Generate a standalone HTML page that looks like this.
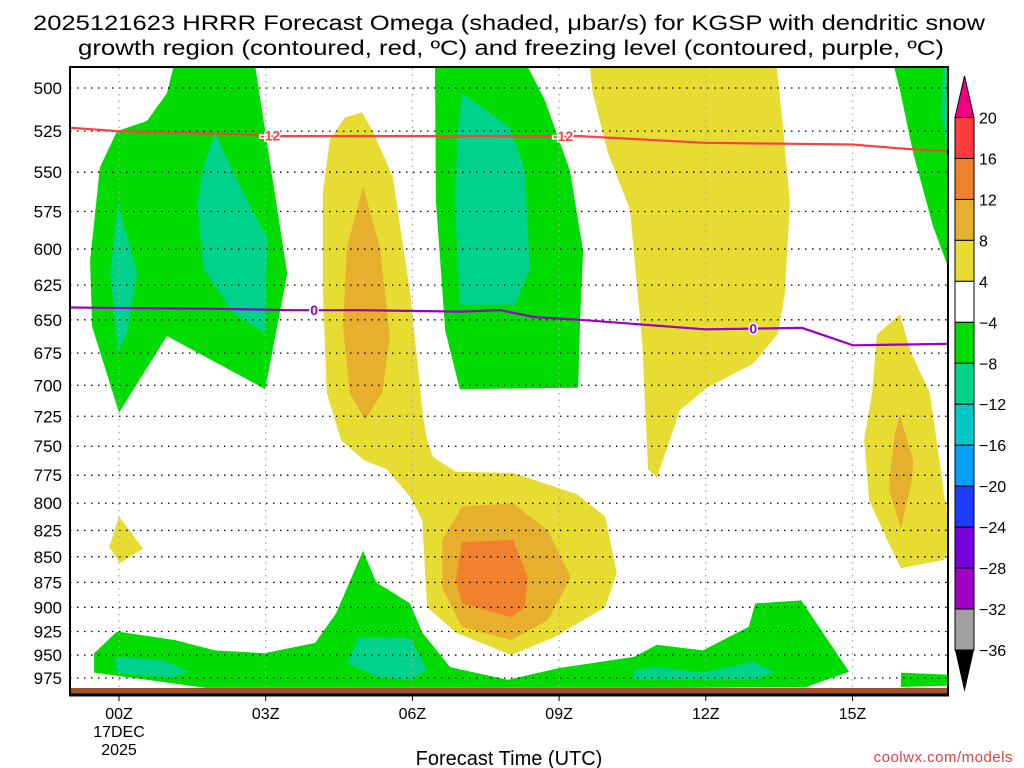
<!DOCTYPE html>
<html><head><meta charset="utf-8"><style>
html,body{margin:0;padding:0;background:#fff;}
svg{display:block;font-family:"Liberation Sans",sans-serif;}
</style></head><body>
<svg id="chart" width="1024" height="768" viewBox="0 0 1024 768" xmlns="http://www.w3.org/2000/svg">
<defs><clipPath id="plotclip"><rect x="70" y="67" width="878" height="628"/></clipPath></defs>
<text x="33" y="30" font-size="21" textLength="952" lengthAdjust="spacingAndGlyphs">2025121623 HRRR Forecast Omega (shaded, μbar/s) for KGSP with dendritic snow</text>
<text x="78" y="55" font-size="21" textLength="866" lengthAdjust="spacingAndGlyphs">growth region (contoured, red, ºC) and freezing level (contoured, purple, ºC)</text>
<g id="fills" clip-path="url(#plotclip)"></g>
<g id="grid"></g>
<g id="lines" clip-path="url(#plotclip)"></g>
<rect x="70" y="688" width="878" height="7" fill="#a0522d"/>
<rect x="70" y="67" width="878" height="628" fill="none" stroke="#000" stroke-width="2"/>
<line x1="69" y1="695" x2="949" y2="695" stroke="#000" stroke-width="3"/>
<g id="yaxis"></g>
<g id="xaxis"></g>
<text x="119" y="737" font-size="16" text-anchor="middle">17DEC</text>
<text x="119" y="755" font-size="16" text-anchor="middle">2025</text>
<text x="509" y="765" font-size="20" text-anchor="middle">Forecast Time (UTC)</text>
<text x="1013" y="762" font-size="15" text-anchor="end" fill="#e04040" letter-spacing="0.5">coolwx.com/models</text>
<g id="cbar"></g>
</svg>
<script>
const pressureTicks=[500,525,550,575,600,625,650,675,700,725,750,775,800,825,850,875,900,925,950,975];
const hourTicks=[0,3,6,9,12,15];
const hourLabels=["00Z","03Z","06Z","09Z","12Z","15Z"];
const levelValues=[20,16,12,8,4,-4,-8,-12,-16,-20,-24,-28,-32,-36];
const levelColors=["#fa3c3c","#f0822d","#e6af2d","#e6dc32","#ffffff","#00dc00","#00d28c","#00c8c8","#00a0ff","#1e3cff","#7800dc","#a000c8","#a0a0a0"];
// omega shaded regions: [hour, pressure]
const greenLeft=[[1.19,480],[2.74,480],[3.44,617],[2.99,703],[0.98,662],[0,722],[-0.55,655],[-0.59,608],[-0.39,547],[-0.04,525],[0.57,519],[0.98,503]];
const tealLeftA=[[-0.02,570],[0.37,617],[0.16,660],[-0.02,674],[-0.18,617]];
const tealLeftB=[[1.96,526],[2.62,568],[3.03,592],[2.99,660],[2.33,645],[1.72,613],[1.6,570],[1.72,547]];
const yellowMid=[[4.97,514],[5.19,525],[5.6,553],[5.95,630],[6.22,726],[6.3,745],[6.42,759],[6.89,772],[8.06,773],[9.37,792],[9.94,812],[10.18,866],[9.94,900],[8.9,931],[8.02,950],[6.89,926],[6.3,900],[6.2,815],[5.95,794],[5.48,770],[5.01,762],[4.54,745],[4.25,706],[4.17,630],[4.17,563],[4.31,530],[4.62,517]];
const orangeMid=[[4.99,559],[5.34,599],[5.54,663],[5.38,706],[5.03,728],[4.72,706],[4.58,655],[4.66,599]];
const orangeLow=[[7.01,803],[8.06,800],[8.77,825],[9.24,870],[8.77,913],[8.02,934],[7.01,920],[6.61,880],[6.61,834]];
const redLow=[[7.01,836],[8.06,834],[8.36,870],[8.3,900],[8.02,910],[7.01,896],[6.89,873]];
const greenMid=[[6.46,480],[8.2,480],[8.71,507],[9.22,549],[9.49,601],[9.43,650],[9.39,702],[6.97,703],[6.67,658],[6.48,568]];
const tealMid=[[7.01,503],[8.0,523],[8.3,549],[8.4,614],[8.1,639],[6.97,639],[6.87,568],[6.93,525]];
const yellowBig=[[9.59,480],[13.42,480],[13.58,523],[13.72,569],[13.62,630],[13.48,660],[12.97,683],[12.02,702],[11.47,720],[11.0,777],[10.82,770],[10.7,667],[10.45,574],[10.0,538],[9.69,503]];
const greenRight=[[15.77,480],[17.2,480],[17.2,620],[16.95,612],[16.65,585],[16.24,538],[15.97,501]];
const tealRight=[[16.85,480],[17.2,480],[17.2,538],[16.95,538],[16.83,518]];
const yellowRight=[[15.97,646],[16.18,673],[16.58,706],[16.89,797],[17.2,840],[16.95,843],[16.87,853],[15.99,861],[15.71,834],[15.34,797],[15.24,745],[15.4,706],[15.5,661]];
const orangeRight=[[15.97,724],[16.24,762],[16.22,779],[15.99,823],[15.75,788],[15.77,773],[15.87,739]];
const yellowSmall=[[0,812],[0.49,842],[0.02,856],[-0.2,841]];
const greenBottom=[[-0.51,948],[-0.04,925],[1.15,934],[1.96,945],[2.97,948],[4.01,937],[4.44,906],[4.99,844],[5.26,875],[5.95,896],[6.2,926],[6.77,963],[7.95,977],[9.0,964],[10.53,952],[11.0,939],[11.94,945],[12.88,920],[13.01,896],[13.95,893],[14.93,968],[14.05,985],[11.66,986],[7.42,986],[5.95,986],[1.78,986],[-0.51,969]];
const greenBottomRight=[[15.99,969],[17.2,972],[17.2,983],[15.99,985]];
const tealBottomA=[[-0.08,952],[0.9,955],[1.43,968],[1.02,975],[-0.04,969]];
const tealBottomB=[[4.89,931],[5.95,932],[6.3,966],[5.95,977],[5.36,975],[4.66,959]];
const tealBottomC=[[10.53,966],[11.0,963],[11.94,969],[12.94,957],[13.42,968],[13.01,977],[10.53,977]];
// contour lines
const dgzHours=[-1.0,-0.04,2.62,3.29,5.07,8.0,9.43,11.98,14.99,16.24,16.95];
const dgzPress=[523,525,527,528,528,528,528,532,533,536,537];
const dgzLabelHours=[3.09,9.08];
const frzHours=[-1.0,2.07,3.56,4.93,7.0,7.8,8.5,9.43,11.98,13.97,15.01,16.95];
const frzPress=[641,642,643,643,644,643,648,650,657,656,669,668];
const frzLabelHours=[3.99,12.97];

const NS="http://www.w3.org/2000/svg";
function xs(h){return 119+48.9*h;}
function ys(p){return 88+883.5*Math.log(p/500);}
function mk(tag,attrs,parent){const e=document.createElementNS(NS,tag);for(const k in attrs)e.setAttribute(k,attrs[k]);parent.appendChild(e);return e;}
const fills=document.getElementById('fills');
function poly(pts,color,name){
  const e=mk('polygon',{points:pts.map(q=>xs(q[0]).toFixed(1)+','+ys(q[1]).toFixed(1)).join(' '),fill:color},fills);
  
  
}
const G="#00dc00",T="#00d28c",Y="#e6dc32",O="#e6af2d",R="#f0822d";
poly(greenLeft,G,'omega-region-green-left');
poly(tealLeftA,T,'omega-region-teal-left-a');
poly(tealLeftB,T,'omega-region-teal-left-b');
poly(greenMid,G,'omega-region-green-mid');
poly(tealMid,T,'omega-region-teal-mid');
poly(greenRight,G,'omega-region-green-right');
poly(tealRight,T,'omega-region-teal-right');
poly(greenBottom,G,'omega-region-green-bottom');
poly(greenBottomRight,G,'omega-region-green-bottom-right');
poly(tealBottomA,T,'omega-region-teal-bottom-a');
poly(tealBottomB,T,'omega-region-teal-bottom-b');
poly(tealBottomC,T,'omega-region-teal-bottom-c');
poly(yellowMid,Y,'omega-region-yellow-mid');
poly(orangeMid,O,'omega-region-orange-mid');
poly(orangeLow,O,'omega-region-orange-low');
poly(redLow,R,'omega-region-red-low');
poly(yellowBig,Y,'omega-region-yellow-big');
poly(yellowRight,Y,'omega-region-yellow-right');
poly(orangeRight,O,'omega-region-orange-right');
poly(yellowSmall,Y,'omega-region-yellow-small');

const grid=document.getElementById('grid');
const yax=document.getElementById('yaxis');
pressureTicks.forEach(p=>{
  const y=ys(p);
  const l=mk('line',{x1:70,x2:948,y1:y,y2:y,stroke:'#000','stroke-width':1.3,'stroke-dasharray':'1.5 5.5'},grid);
  
  
  const t=mk('text',{x:62,y:y+6,'font-size':17,'text-anchor':'end'},yax);
  t.textContent=p;
  
  
});
const xax=document.getElementById('xaxis');
hourTicks.forEach((h,i)=>{
  const x=xs(h);
  const l=mk('line',{x1:x,x2:x,y1:68,y2:694,stroke:'#aaa','stroke-width':1.3,'stroke-dasharray':'1.5 5'},grid);
  
  
  const tk=mk('line',{x1:x,x2:x,y1:695,y2:701,stroke:'#000','stroke-width':1},xax);
  
  
  const t=mk('text',{x:x,y:719,'font-size':16,'text-anchor':'middle'},xax);
  t.textContent=hourLabels[i];
  
  
});

const lines=document.getElementById('lines');
function contour(hs,ps,color,labelHours,labelText,name){
  const d=hs.map((h,i)=>(i?'L':'M')+xs(h).toFixed(1)+' '+ys(ps[i]).toFixed(1)).join(' ');
  const path=mk('path',{d:d,fill:'none',stroke:color,'stroke-width':2.2},lines);
  
  
  labelHours.forEach(h=>{
    let j=0;while(j<hs.length-2&&hs[j+1]<h)j++;
    const f=(h-hs[j])/(hs[j+1]-hs[j]);
    const p=ps[j]+(ps[j+1]-ps[j])*f;
    const x=xs(h),y=ys(p);
    const bg=mk('rect',{x:x-14,y:y-7,width:28,height:14,fill:'#fff','fill-opacity':0.0},lines);
    
    
    const t=mk('text',{x:x,y:y+5,'font-size':14,'font-weight':'bold','text-anchor':'middle',fill:color,stroke:'#fff','stroke-width':3,'paint-order':'stroke'},lines);
    t.textContent=labelText;
    
    
  });
}
contour(dgzHours,dgzPress,'#fa4040',dgzLabelHours,'-12','dgz-minus12-contour');
contour(frzHours,frzPress,'#9b00c8',frzLabelHours,'0','freezing-level-contour');

const cb=document.getElementById('cbar');
const cbTop=117.5,cbBot=650,cbX=955,cbW=19;
const segH=(cbBot-cbTop)/levelColors.length;
const up=mk('polygon',{points:`${cbX},${cbTop} ${cbX+cbW},${cbTop} ${cbX+cbW/2},76`,fill:'#f00082',stroke:'#000','stroke-width':1},cb);


levelColors.forEach((c,i)=>{
  const r=mk('rect',{x:cbX,y:cbTop+i*segH,width:cbW,height:segH,fill:c,stroke:'#000','stroke-width':1},cb);
  
  
});
const dn=mk('polygon',{points:`${cbX},${cbBot} ${cbX+cbW},${cbBot} ${cbX+cbW/2},692`,fill:'#000'},cb);


levelValues.forEach((v,i)=>{
  const t=mk('text',{x:979,y:cbTop+i*segH+6,'font-size':16},cb);
  t.textContent=(v<0?'\u2212':'')+Math.abs(v);
  
  
});
</script>
</body></html>
